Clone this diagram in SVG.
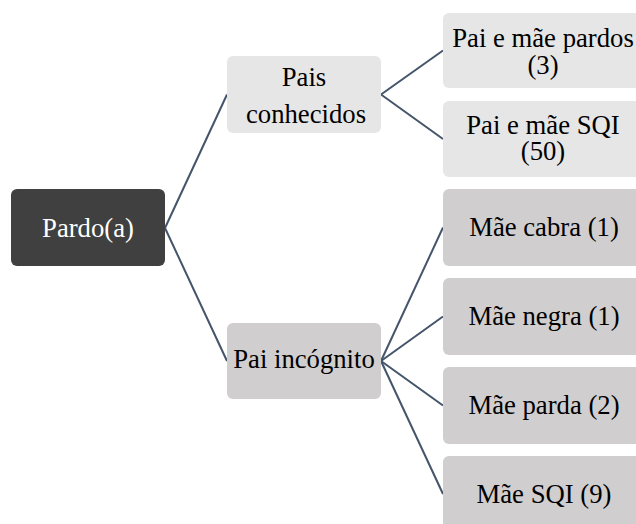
<svg xmlns="http://www.w3.org/2000/svg" width="636" height="524" viewBox="0 0 636 524">
<style>
.t{font-family:"Liberation Serif","Times New Roman",serif;font-size:26.7px;text-anchor:middle;fill:#000}
.w{fill:#fff}
.root{fill:#404040}
.lt{fill:#e7e6e6}
.dk{fill:#d0cece}
.c{stroke:#44546a;stroke-width:2;fill:none}
</style>
<rect width="636" height="524" fill="#fff"/>
<g id="connectors">
<line class="c" x1="165" y1="228" x2="227" y2="94.5"/>
<line class="c" x1="165" y1="228" x2="227" y2="361"/>
<line class="c" x1="381" y1="94.5" x2="443" y2="50.5"/>
<line class="c" x1="381" y1="94.5" x2="443" y2="139"/>
<line class="c" x1="381" y1="361" x2="443" y2="227.5"/>
<line class="c" x1="381" y1="361" x2="443" y2="316.5"/>
<line class="c" x1="381" y1="361" x2="443" y2="405.5"/>
<line class="c" x1="381" y1="361" x2="443" y2="494"/>
</g>
<g id="root">
<rect class="root" x="11" y="189" width="154" height="77" rx="6"/>
<text class="t w" x="88" y="237">Pardo(a)</text>
</g>
<g id="pais-conhecidos">
<rect class="lt" x="227" y="56" width="154" height="77" rx="6"/>
<text class="t" x="304" y="86">Pais</text>
<text class="t" x="306" y="122.5">conhecidos</text>
</g>
<g id="pai-incognito">
<rect class="dk" x="227" y="323" width="154" height="76" rx="6"/>
<text class="t" x="304" y="368">Pai incógnito</text>
</g>
<g id="pai-mae-pardos">
<rect class="lt" x="443" y="13" width="205" height="75" rx="6"/>
<text class="t" x="543" y="47">Pai e mãe pardos</text>
<text class="t" x="543" y="74">(3)</text>
</g>
<g id="pai-mae-sqi">
<rect class="lt" x="443" y="101" width="205" height="76" rx="6"/>
<text class="t" x="543" y="134">Pai e mãe SQI</text>
<text class="t" x="543" y="160">(50)</text>
</g>
<g id="mae-cabra">
<rect class="dk" x="443" y="189" width="205" height="77" rx="6"/>
<text class="t" x="544" y="236">Mãe cabra (1)</text>
</g>
<g id="mae-negra">
<rect class="dk" x="443" y="278" width="205" height="77" rx="6"/>
<text class="t" x="544" y="325">Mãe negra (1)</text>
</g>
<g id="mae-parda">
<rect class="dk" x="443" y="367" width="205" height="77" rx="6"/>
<text class="t" x="544" y="414">Mãe parda (2)</text>
</g>
<g id="mae-sqi">
<rect class="dk" x="443" y="456" width="205" height="77" rx="6"/>
<text class="t" x="544" y="503">Mãe SQI (9)</text>
</g>
</svg>
